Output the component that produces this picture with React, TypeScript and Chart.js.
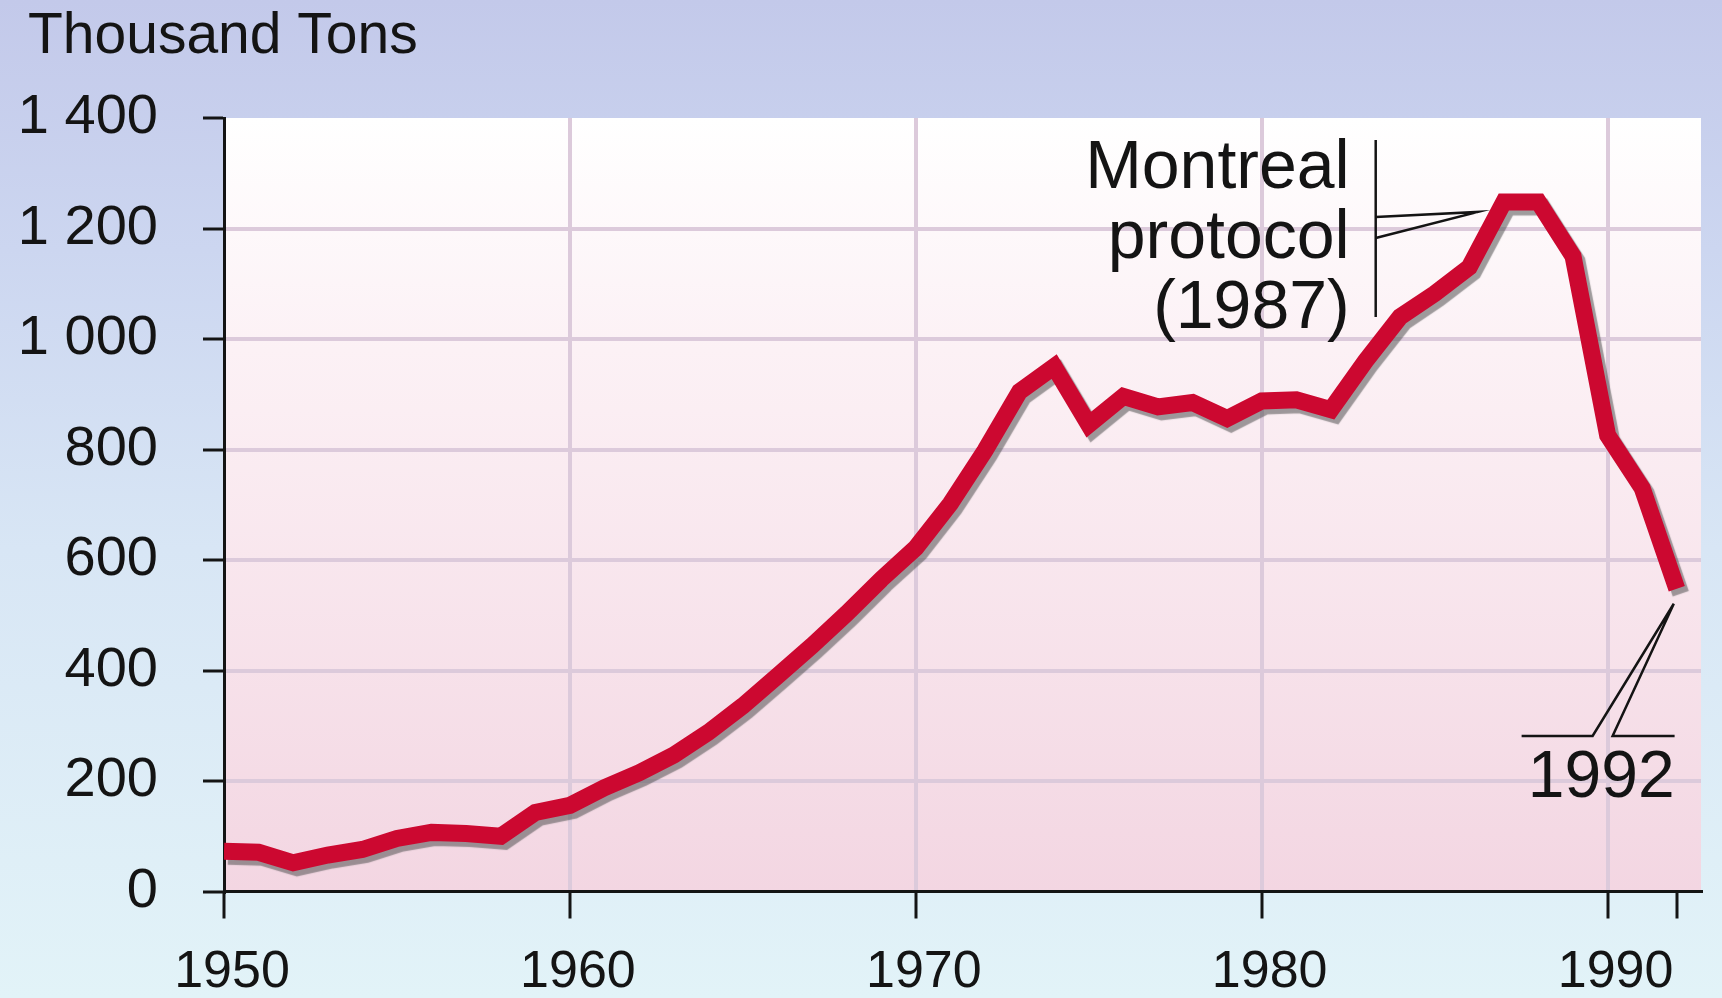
import React, { useEffect, useRef } from 'react';
import { Chart, registerables } from 'chart.js';

Chart.register(...registerables);

// ---- data ----
const years = [
  1950, 1951, 1952, 1953, 1954, 1955, 1956, 1957, 1958, 1959,
  1960, 1961, 1962, 1963, 1964, 1965, 1966, 1967, 1968, 1969,
  1970, 1971, 1972, 1973, 1974, 1975, 1976, 1977, 1978, 1979,
  1980, 1981, 1982, 1983, 1984, 1985, 1986, 1987, 1988, 1989,
  1990, 1991, 1992,
];
const cfcProduction = [
  73, 71, 52, 66, 76, 96, 107, 105, 100, 143,
  156, 188, 215, 247, 288, 336, 390, 445, 503, 565,
  622, 702, 798, 905, 950, 845, 896, 877, 885, 856,
  888, 890, 872, 960, 1040, 1082, 1130, 1248, 1248, 1150,
  826, 730, 548,
];
const xTickYears = [1950, 1960, 1970, 1980, 1990];
const xEndTick = 1992;
const yTickValues = [0, 200, 400, 600, 800, 1000, 1200, 1400];
const titleText = 'Thousand Tons';
const protocolLabel = ['Montreal', 'protocol', '(1987)'];
const protocolYear = 1987;
const endLabel = '1992';

const FONT = '"Liberation Sans", Arial, Helvetica, sans-serif';
const INK = '#141414';
const GRID = '#dccadb';
const CLEAR = 'rgba(0,0,0,0)';

const formatThousands = (v: number) =>
  v >= 1000 ? `${Math.floor(v / 1000)} ${String(v % 1000).padStart(3, '0')}` : `${v}`;

const plotBackground = {
  id: 'plotBackground',
  beforeDraw(chart: any) {
    const { ctx, chartArea: a } = chart;
    const g = ctx.createLinearGradient(0, a.top, 0, a.bottom);
    g.addColorStop(0, '#ffffff');
    g.addColorStop(0.3, '#fcf1f5');
    g.addColorStop(1, '#f3d6e2');
    ctx.save();
    ctx.fillStyle = g;
    ctx.fillRect(a.left, a.top, a.right - a.left, a.bottom - a.top);
    ctx.restore();
  },
};

const lineShadow = {
  id: 'lineShadow',
  beforeDatasetDraw(chart: any) {
    const ctx = chart.ctx;
    ctx.save();
    ctx.shadowColor = 'rgba(80,80,80,0.55)';
    ctx.shadowOffsetX = 4;
    ctx.shadowOffsetY = 5;
    ctx.shadowBlur = 1;
  },
  afterDatasetDraw(chart: any) {
    chart.ctx.restore();
  },
};

const annotations = {
  id: 'annotations',
  afterDraw(chart: any) {
    const { ctx } = chart;
    const xs = chart.scales.x;
    const ys = chart.scales.y;
    ctx.save();
    ctx.fillStyle = INK;
    ctx.strokeStyle = INK;
    ctx.textBaseline = 'alphabetic';

    // title
    ctx.font = `57px ${FONT}`;
    ctx.textAlign = 'left';
    ctx.fillText(titleText, 28, 53);

    // Montreal protocol annotation
    const i87 = years.indexOf(protocolYear);
    const tipX = xs.getPixelForValue(protocolYear) - 26;
    const tipY = ys.getPixelForValue(cfcProduction[i87]) + 10;
    const x80 = xs.getPixelForValue(1980);
    const yTop = ys.getPixelForValue(1400);
    ctx.font = `68px ${FONT}`;
    ctx.textAlign = 'right';
    protocolLabel.forEach((t, k) => ctx.fillText(t, x80 + 88, yTop + 70 + 70 * k));
    const bx = x80 + 114;
    ctx.lineWidth = 2.5;
    ctx.beginPath();
    ctx.moveTo(bx, yTop + 22);
    ctx.lineTo(bx, yTop + 199);
    ctx.stroke();
    ctx.beginPath();
    ctx.moveTo(bx, yTop + 99);
    ctx.lineTo(tipX, tipY);
    ctx.lineTo(bx, yTop + 120);
    ctx.stroke();

    // 1992 annotation
    const last = years.length - 1;
    const eX = xs.getPixelForValue(years[last]) - 3;
    const eY = ys.getPixelForValue(cfcProduction[last]) + 15;
    const x90 = xs.getPixelForValue(1990);
    const y0 = ys.getPixelForValue(0);
    const baseY = y0 - 155.5;
    ctx.beginPath();
    ctx.moveTo(x90 - 86, baseY);
    ctx.lineTo(x90 - 15, baseY);
    ctx.lineTo(eX, eY);
    ctx.lineTo(x90 + 5, baseY);
    ctx.lineTo(x90 + 67, baseY);
    ctx.stroke();
    ctx.font = `66px ${FONT}`;
    ctx.textAlign = 'right';
    ctx.fillText(endLabel, x90 + 67, y0 - 94.5);
    ctx.restore();
  },
};

export default function App() {
  const canvasRef = useRef<HTMLCanvasElement | null>(null);

  useEffect(() => {
    document.body.style.margin = '0';
    const canvas = canvasRef.current;
    if (!canvas) return;
    const chart = new Chart(canvas, {
      type: 'line',
      data: {
        datasets: [
          {
            label: 'CFC production',
            data: years.map((yr, i) => ({ x: yr, y: cfcProduction[i] })),
            borderColor: '#cc0830',
            borderWidth: 17,
            pointRadius: 0,
            tension: 0,
            fill: false,
            borderJoinStyle: 'miter',
            borderCapStyle: 'butt',
          },
        ],
      },
      options: {
        animation: false,
        responsive: false,
        events: [],
        layout: { padding: { top: 118, right: 21, bottom: 0, left: 0 } },
        plugins: {
          legend: { display: false },
          title: { display: false },
          tooltip: { enabled: false },
        },
        scales: {
          x: {
            type: 'linear',
            min: 1950,
            max: 1992.7,
            afterBuildTicks: (s: any) => {
              s.ticks = [...xTickYears, xEndTick].map((v) => ({ value: v }));
            },
            afterFit: (s: any) => {
              s.height = 106.5;
            },
            ticks: {
              autoSkip: false,
              maxRotation: 0,
              padding: 23,
              labelOffset: 8,
              color: INK,
              font: { family: FONT, size: 52 },
              callback: (v: any) => (xTickYears.includes(Number(v)) ? String(v) : ''),
            },
            grid: {
              color: (c: any) =>
                c.tick && (c.tick.value === 1950 || c.tick.value === xEndTick) ? CLEAR : GRID,
              lineWidth: 4,
              tickColor: INK,
              tickWidth: 3,
              tickLength: 27,
            },
            border: { color: INK, width: 3 },
          },
          y: {
            min: 0,
            max: 1400,
            afterBuildTicks: (s: any) => {
              s.ticks = yTickValues.map((v) => ({ value: v }));
            },
            afterFit: (s: any) => {
              s.width = 224;
            },
            ticks: {
              padding: 45,
              color: INK,
              font: { family: FONT, size: 56 },
              callback: (v: any) => formatThousands(Number(v)),
            },
            grid: {
              color: (c: any) =>
                c.tick && (c.tick.value === 0 || c.tick.value === 1400) ? CLEAR : GRID,
              lineWidth: 4,
              tickColor: INK,
              tickWidth: 3,
              tickLength: 21,
            },
            border: { color: INK, width: 3 },
          },
        },
      } as any,
      plugins: [plotBackground, lineShadow, annotations],
    });
    return () => chart.destroy();
  }, []);

  return (
    <div
      style={{
        position: 'relative',
        width: 1722,
        height: 998,
        background:
          'linear-gradient(to bottom, #c3c9ea 0%, #ccd6f0 25%, #d8e6f5 55%, #e2f3f8 100%)',
      }}
    >
      <canvas ref={canvasRef} width={1722} height={998} style={{ display: 'block' }} />
    </div>
  );
}
